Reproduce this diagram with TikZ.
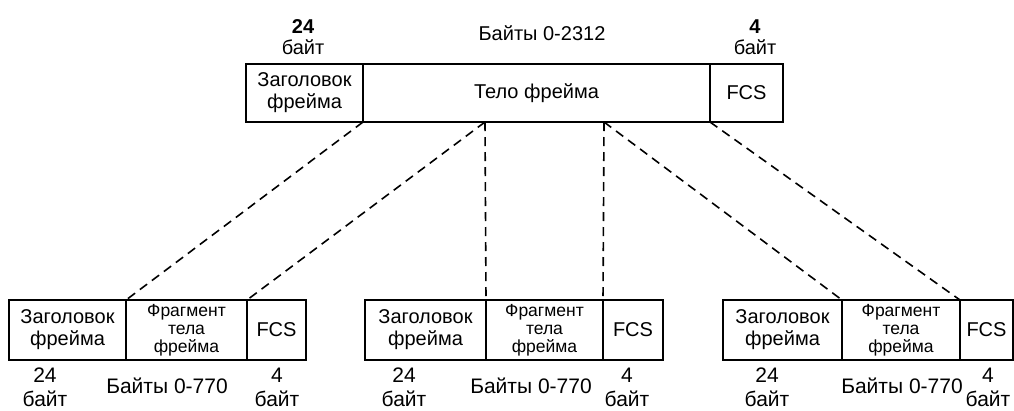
\documentclass[tikz,border=0pt]{standalone}
\usepackage{fontspec}
\setmainfont{Liberation Sans}
\begin{document}
\begin{tikzpicture}[x=1pt,y=-1pt,
  cell/.style={draw, line width=1.5pt, inner sep=0pt, outer sep=0pt, align=center, font=\fontsize{20}{22}\selectfont},
  frag/.style={cell, font=\fontsize{17.5}{18}\selectfont},
  tlbl/.style={inner sep=0pt, align=center, font=\fontsize{20}{21}\selectfont},
  lbl/.style={inner sep=0pt, align=center, font=\fontsize{21}{24}\selectfont},
  conn/.style={line width=1.6pt, dash pattern=on 9pt off 6pt}]
\useasboundingbox (0,0) rectangle (1014,410);
% top frame
\node[cell, minimum width=117pt, minimum height=58pt] (hdr) at (304.5,93) {Заголовок\\фрейма};
\node[cell, minimum width=347pt, minimum height=58pt] (body) at (536.5,93) {Тело фрейма};
\node[cell, minimum width=73pt, minimum height=58pt] (fcs) at (746.5,93) {FCS};
\node[tlbl] (t24) at (303,37) {\textbf{24}\\байт};
\node[tlbl] (tb) at (542,33) {Байты 0-2312};
\node[tlbl] (t4) at (755,37) {\textbf{4}\\байт};
\coordinate (p1) at (485,122);
\coordinate (p2) at (604,122);
% bottom frame 1
\node[cell, minimum width=117pt, minimum height=60pt] (a1) at (67.5,330) {Заголовок\\фрейма};
\node[frag, minimum width=121pt, minimum height=60pt] (a2) at (186.5,330) {Фрагмент\\тела\\фрейма};
\node[cell, minimum width=59pt, minimum height=60pt] (a3) at (276.5,330) {FCS};
\node[lbl] (a24) at (45,387) {24\\байт};
\node[lbl] (ab) at (167,386) {Байты 0-770};
\node[lbl] (a4) at (277,387) {4\\байт};
% bottom frame 2
\node[cell, minimum width=121pt, minimum height=60pt] (b1) at (425.5,330) {Заголовок\\фрейма};
\node[frag, minimum width=117pt, minimum height=60pt] (b2) at (544.5,330) {Фрагмент\\тела\\фрейма};
\node[cell, minimum width=60pt, minimum height=60pt] (b3) at (633,330) {FCS};
\node[lbl] (b24) at (404,387) {24\\байт};
\node[lbl] (bb) at (531,386) {Байты 0-770};
\node[lbl] (b4) at (627,387) {4\\байт};
% bottom frame 3
\node[cell, minimum width=119pt, minimum height=60pt] (c1) at (782.5,330) {Заголовок\\фрейма};
\node[frag, minimum width=118pt, minimum height=60pt] (c2) at (901,330) {Фрагмент\\тела\\фрейма};
\node[cell, minimum width=53pt, minimum height=60pt] (c3) at (986.5,330) {FCS};
\node[lbl] (c24) at (767,387) {24\\байт};
\node[lbl] (cb) at (902,386) {Байты 0-770};
\node[lbl] (c4) at (988,387) {4\\байт};
% connectors
\draw[conn] (hdr.south east) -- (a1.north east);
\draw[conn] (p1) -- (a2.north east);
\draw[conn] (p1) -- (b1.north east);
\draw[conn] (p2) -- (b2.north east);
\draw[conn] (p2) -- (c1.north east);
\draw[conn] (fcs.south west) -- (c2.north east);
\end{tikzpicture}
\end{document}
